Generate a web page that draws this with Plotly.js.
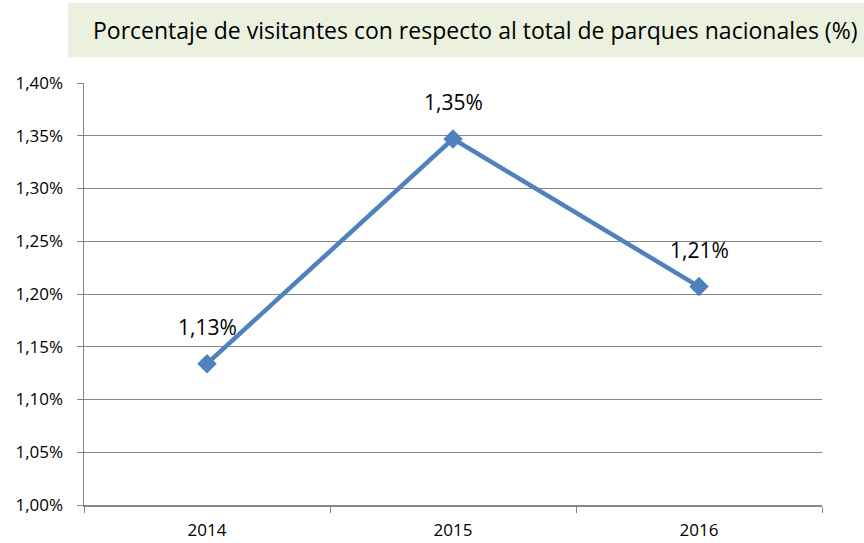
<!DOCTYPE html>
<html>
<head>
<meta charset="utf-8">
<script src="https://cdn.plot.ly/plotly-3.0.1.min.js"></script>
<style>html,body{margin:0;padding:0;background:#fff;}#chart{width:864px;height:543px;}</style>
</head>
<body>
<div id="chart"></div>
<script>
const years = ['2014', '2015', '2016'];
const values = [1.134, 1.347, 1.207];
const labels = ['1,13%', '1,35%', '1,21%'];
const yTicks = [1.00, 1.05, 1.10, 1.15, 1.20, 1.25, 1.30, 1.35, 1.40];
const yTickText = ['1,00%', '1,05%', '1,10%', '1,15%', '1,20%', '1,25%', '1,30%', '1,35%', '1,40%'];
const titleText = 'Porcentaje de visitantes con respecto al total de parques nacionales (%)';

const FONT = 'Open Sans';

const trace = {
  x: years,
  y: values,
  type: 'scatter',
  mode: 'lines+markers',
  line: {color: '#4F81BD', width: 4.5},
  marker: {symbol: 'diamond', size: 15, color: '#4F81BD'},
  hoverinfo: 'none'
};

const annotations = years.map((yr, i) => ({
  x: i, y: values[i], xref: 'x', yref: 'y',
  text: labels[i], showarrow: false, yshift: 37,
  font: {family: FONT, size: 21, color: '#000'}
}));
annotations.push({
  xref: 'paper', yref: 'paper', x: 0.5298, y: 1, yshift: 53, yanchor: 'middle',
  text: titleText, showarrow: false,
  font: {family: FONT, size: 23, color: '#000'}
});

const layout = {
  width: 864, height: 543,
  margin: {l: 84, r: 42, t: 83, b: 38},
  paper_bgcolor: '#fff', plot_bgcolor: '#fff',
  showlegend: false,
  font: {family: FONT, size: 17, color: '#000'},
  xaxis: {
    type: 'category', range: [-0.5, 2.5],
    showgrid: false, showline: true, linecolor: '#868686', linewidth: 1.5,
    ticks: 'outside', ticklen: 6, tickcolor: '#868686', tickson: 'boundaries',
    ticklabelstandoff: 9,
    tickfont: {family: FONT, size: 17, color: '#000'}, zeroline: false
  },
  yaxis: {
    range: [1.0, 1.4], tickmode: 'array', tickvals: yTicks, ticktext: yTickText,
    showgrid: true, gridcolor: '#868686', gridwidth: 1,
    showline: true, linecolor: '#868686', linewidth: 1.5,
    ticks: 'outside', ticklen: 6, tickcolor: '#868686',
    ticklabelstandoff: 10,
    tickfont: {family: FONT, size: 17, color: '#000'}, zeroline: false
  },
  shapes: [{
    type: 'rect', xref: 'paper', yref: 'paper',
    x0: -0.0217, x1: 1.057, ysizemode: 'pixel', yanchor: 1, y0: 26, y1: 80,
    fillcolor: '#EBF1DE', line: {width: 0}, layer: 'below'
  }],
  annotations: annotations
};

Plotly.newPlot('chart', [trace], layout, {displayModeBar: false, staticPlot: true});
</script>
</body>
</html>
